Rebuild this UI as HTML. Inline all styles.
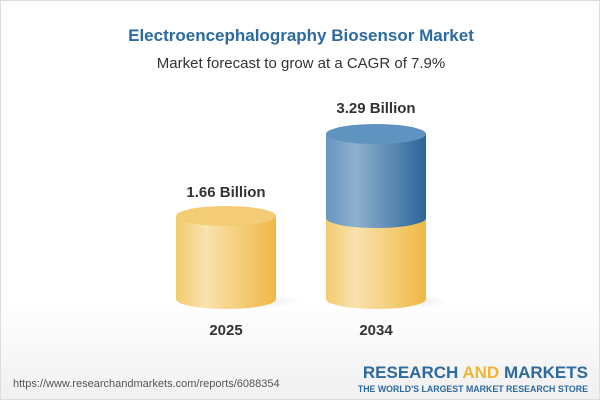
<!DOCTYPE html>
<html><head><style>
body{margin:0;width:600px;height:400px;overflow:hidden;font-family:"Liberation Sans",sans-serif;}
.wrap{position:absolute;left:0;top:0;width:598px;height:398px;border:1px solid #ddd;background:linear-gradient(#fff 0,#fff 300px,#f0f0f0 400px);}
</style></head><body><div class="wrap">
<svg width="600" height="400" style="position:absolute;left:0;top:0">
<defs>
<linearGradient id="y" x1="0" x2="1"><stop offset="0" stop-color="#f3cb6f"/><stop offset="0.3" stop-color="#f9e2ae"/><stop offset="1" stop-color="#efb843"/></linearGradient>
<linearGradient id="b" x1="0" x2="1"><stop offset="0" stop-color="#6797c0"/><stop offset="0.3" stop-color="#8fb0cd"/><stop offset="1" stop-color="#2a6599"/></linearGradient>
<radialGradient id="sh"><stop offset="0" stop-color="#000" stop-opacity="0.12"/><stop offset="1" stop-color="#000" stop-opacity="0"/></radialGradient>
</defs>
<text x="300" y="40" text-anchor="middle" font-size="17" font-weight="bold" fill="#2c6aa0">Electroencephalography Biosensor Market</text>
<text x="300" y="67" text-anchor="middle" font-size="15" fill="#333">Market forecast to grow at a CAGR of 7.9%</text>
<ellipse cx="240" cy="300" rx="60" ry="8" fill="url(#sh)"/>
<ellipse cx="390" cy="300" rx="60" ry="8" fill="url(#sh)"/>
<path d="M175 215 V298 A50 10 0 0 0 275 298 V215 Z" fill="url(#y)"/>
<ellipse cx="225" cy="215" rx="50" ry="10" fill="#f4cc75"/>
<path d="M325 217 V298 A50 10 0 0 0 425 298 V217 Z" fill="url(#y)"/>
<path d="M325 133 V217 A50 10 0 0 0 425 217 V133 Z" fill="url(#b)"/>
<ellipse cx="375" cy="133" rx="50" ry="10" fill="#5f94c0"/>
<text x="225" y="196" text-anchor="middle" font-size="15" font-weight="bold" fill="#333">1.66 Billion</text>
<text x="375" y="112" text-anchor="middle" font-size="15" font-weight="bold" fill="#333">3.29 Billion</text>
<text x="225" y="334" text-anchor="middle" font-size="15" font-weight="bold" fill="#333">2025</text>
<text x="375" y="334" text-anchor="middle" font-size="15" font-weight="bold" fill="#333">2034</text>
<text x="12" y="386" font-size="11" fill="#555">https://www.researchandmarkets.com/reports/6088354</text>
<text x="587" y="377" text-anchor="end" font-size="17" font-weight="bold" fill="#2c6aa0">RESEARCH <tspan fill="#f2b632">AND</tspan> MARKETS</text>
<text x="587" y="391" text-anchor="end" font-size="8.8" font-weight="bold" fill="#2c6aa0">THE WORLD'S LARGEST MARKET RESEARCH STORE</text>
</svg></div></body></html>
